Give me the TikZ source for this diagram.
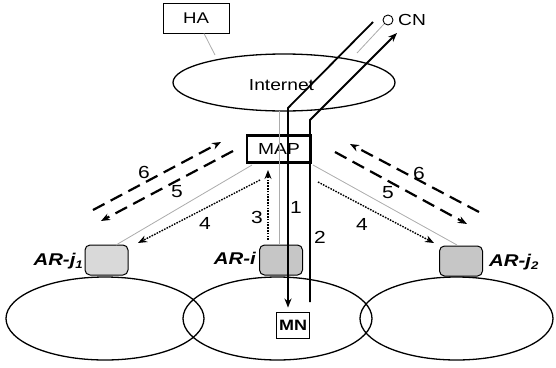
\documentclass[tikz,border=0pt]{standalone}
\usepackage{fontspec}
\setmainfont{Liberation Sans}
\usepackage{graphicx}
\usetikzlibrary{arrows.meta,shapes.geometric}
\newcommand{\stx}[1]{\scalebox{1.2}[1]{#1}}
\newcommand{\arlbl}[2]{\stx{\bfseries\itshape AR-#1\raisebox{-0.35ex}{\fontsize{11}{11}\selectfont #2}}}
\begin{document}
\begin{tikzpicture}[x=1pt,y=-1pt,
  txt/.style={inner sep=0pt, font=\fontsize{16}{18}\selectfont},
  arl/.style={inner sep=0pt, font=\fontsize{17}{19}\selectfont},
  num/.style={inner sep=0pt, font=\fontsize{17.5}{19}\selectfont},
  plainbox/.style={draw, line width=0.9pt, inner sep=0pt, font=\fontsize{15.5}{17}\selectfont},
  net/.style={draw, ellipse, line width=1.3pt, inner sep=0pt},
  arbox/.style={draw, rounded corners=5pt, fill=gray!45, line width=1pt, minimum width=43pt, minimum height=30pt, inner sep=0pt},
  datapath/.style={line width=1.8pt},
  grayline/.style={draw=gray!65, line width=0.8pt},
  sigline/.style={line width=1.4pt, dash pattern=on 1.6pt off 1.2pt},
  ctrlline/.style={line width=2.2pt, dash pattern=on 13pt off 7pt},
  tip/.style={-{Stealth[length=9pt,width=7pt]}}
]
\useasboundingbox (0,0) rectangle (556,367);

% networks
\node[net, minimum width=222pt, minimum height=57pt] (inet) at (284,82.5) {};
\node[txt] (inettxt) at (281.5,85) {\stx{Internet}};
\node[net, minimum width=198pt, minimum height=83pt] (netj1) at (105,318.5) {};
\node[net, minimum width=189pt, minimum height=83pt] (neti) at (277.5,318.5) {};
\node[net, minimum width=193pt, minimum height=83pt] (netj2) at (456.5,318.5) {};

% boxes
\node[plainbox, minimum width=66pt, minimum height=30pt] (ha) at (196,18) {\stx{HA}};
\node[plainbox, line width=2.6pt, minimum width=64pt, minimum height=27pt, font=\fontsize{16}{18}\selectfont] (map) at (279,149) {\stx{MAP}};
\node[plainbox, minimum width=33pt, minimum height=26pt, font=\fontsize{15}{17}\selectfont\bfseries] (mn) at (293,325) {\stx{MN}};
\node[draw, circle, line width=0.9pt, minimum size=10pt, inner sep=0pt] (cn) at (388,20) {};
\node[txt, anchor=west] (cntxt) at (398,20) {\stx{CN}};

\node[arbox, fill=gray!30] (arj1) at (106.5,260) {};
\node[arbox] (ari) at (281,260) {};
\node[arbox] (arj2) at (461,261) {};
\node[arl, anchor=east] (arj1txt) at (83,261) {\arlbl{j}{1}};
\node[arl, anchor=east] (aritxt) at (256,260) {\arlbl{i}{}};
\node[arl, anchor=west] (arj2txt) at (489,262) {\arlbl{j}{2}};

% gray lines
\draw[grayline] (ha.south) ++(8pt,0) coordinate (has) -- (215,55) coordinate (inetha);
\coordinate (cng) at (384,24);
\coordinate (inetcn) at (357,53);
\draw[grayline] (cng) -- (inetcn);
\coordinate (ing) at (279,111);
\coordinate (arig) at (279,245);
\draw[grayline] (ing) -- (arig);
\coordinate (mapsw) at (252,165);
\coordinate (arj1g) at (116,245);
\draw[grayline] (mapsw) -- (arj1g);
\coordinate (mapse) at (313,165);
\coordinate (arj2g) at (457,245);
\draw[grayline] (mapse) -- (arj2g);

% data paths 1 and 2
\coordinate (p1s) at (373,22);
\coordinate (p1c) at (288,108);
\draw[datapath, tip, shorten >=4pt] (p1s) -- (p1c) -- (p1c |- mn.north);
\coordinate (p2s) at (310,302);
\coordinate (p2c) at (310,120);
\coordinate (p2e) at (397,33);
\draw[datapath, tip] (p2s) -- (p2c) -- (p2e);

% signalling (dotted)
\coordinate (s3a) at (268,240);
\coordinate (s3b) at (268,170);
\draw[sigline, tip] (s3a) -- (s3b);
\coordinate (s4la) at (260,180);
\coordinate (s4lb) at (138,243);
\draw[sigline, tip] (s4la) -- (s4lb);
\coordinate (s4ra) at (318,182);
\coordinate (s4rb) at (434,243);
\draw[sigline, tip] (s4ra) -- (s4rb);

% dashed 5 and 6
\coordinate (l6a) at (93,210);
\coordinate (l6b) at (221,142);
\draw[ctrlline, tip] (l6a) -- (l6b);
\coordinate (l5a) at (233,151);
\coordinate (l5b) at (101,221);
\draw[ctrlline, tip] (l5a) -- (l5b);
\coordinate (r6a) at (479,212);
\coordinate (r6b) at (350,144);
\draw[ctrlline, tip] (r6a) -- (r6b);
\coordinate (r5a) at (335,152);
\coordinate (r5b) at (467,224);
\draw[ctrlline, tip] (r5a) -- (r5b);

% labels
\node[num] (n6l) at (144,172) {\stx{6}};
\node[num] (n5l) at (177,192) {\stx{5}};
\node[num] (n4l) at (205,223) {\stx{4}};
\node[num] (n3) at (257,217) {\stx{3}};
\node[num] (n1) at (296,207) {\stx{1}};
\node[num] (n2) at (320,237) {\stx{2}};
\node[num] (n4r) at (362,224) {\stx{4}};
\node[num] (n5r) at (388,193) {\stx{5}};
\node[num] (n6r) at (419,173) {\stx{6}};
\end{tikzpicture}
\end{document}
